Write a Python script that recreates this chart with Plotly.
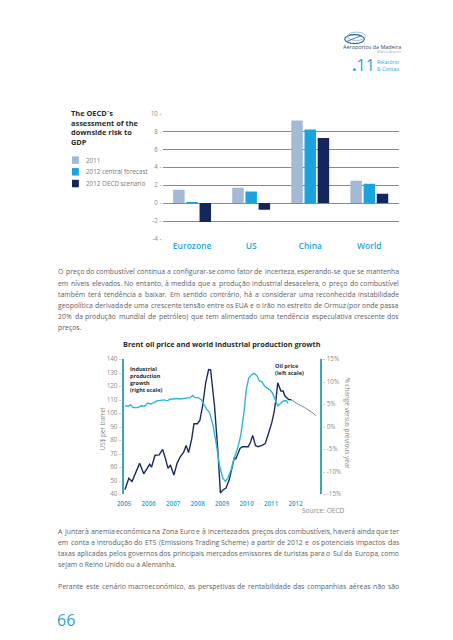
import unicodedata
import plotly.graph_objects as go

W, H = 453, 640


def px(x):
    return x / W


def py(y):
    return 1 - y / H


# ---------------- Bar chart data ----------------
regions = ["Eurozone", "US", "China", "World"]
series_names = ["2011", "2012 central forecast", "2012 OECD scenario"]
gdp_2011 = [1.5, 1.7, 9.2, 2.5]
gdp_2012_central = [0.05, 1.3, 8.2, 2.15]
gdp_2012_oecd = [-2.1, -0.75, 7.25, 1.05]
bar_tickvals = [10, 8, 6, 4, 2, 0, -2, -4]
bar_colors = ["#a3b9d5", "#1ba3dd", "#13275e"]

# ---------------- Line chart data ----------------
oil_t = [2005.03, 2005.19, 2005.32, 2005.43, 2005.63, 2005.8, 2005.92, 2006.04, 2006.12,
         2006.26, 2006.43, 2006.57, 2006.69, 2006.79, 2006.89, 2007.03, 2007.16, 2007.29,
         2007.43, 2007.53, 2007.63, 2007.76, 2007.85, 2007.99, 2008.09, 2008.2, 2008.33,
         2008.45, 2008.53, 2008.69, 2008.83, 2008.93, 2009.03, 2009.16, 2009.29, 2009.43,
         2009.5, 2009.56, 2009.63, 2009.73, 2009.83, 2009.93, 2010.07, 2010.16, 2010.25,
         2010.36, 2010.47, 2010.63, 2010.76, 2010.89, 2011.03, 2011.12, 2011.2, 2011.27,
         2011.33, 2011.4, 2011.49, 2011.56, 2011.63, 2011.72, 2011.83]
oil_usd = [43.2, 51.7, 49.3, 54.0, 62.7, 55.0, 59.0, 62.0, 60.0,
           68.7, 69.0, 73.0, 66.0, 59.0, 61.5, 54.0, 62.7, 67.6,
           71.0, 76.0, 70.7, 81.0, 92.0, 92.0, 94.4, 105.0, 122.4,
           132.2, 132.0, 105.0, 71.0, 40.7, 43.0, 44.4, 50.5, 61.5,
           67.0, 66.0, 69.0, 73.7, 75.0, 75.0, 75.0, 78.5, 83.4,
           76.0, 75.0, 76.0, 77.3, 84.6, 93.0, 100.5, 110.0, 122.4,
           119.0, 116.3, 116.3, 112.7, 111.5, 110.0, 109.8]
oil_fc_t = [2011.83, 2011.89, 2012.09, 2012.36, 2012.63, 2012.84]
oil_fc_usd = [109.8, 109.0, 106.6, 104.1, 101.0, 97.9]

ip_t = [2005.03, 2005.16, 2005.27, 2005.36, 2005.56, 2005.69, 2005.83, 2005.96, 2006.09,
        2006.23, 2006.33, 2006.49, 2006.63, 2006.76, 2006.89, 2007.03, 2007.16, 2007.29,
        2007.43, 2007.56, 2007.69, 2007.8, 2007.89, 2008.03, 2008.16, 2008.25, 2008.36,
        2008.49, 2008.63, 2008.76, 2008.89, 2009.03, 2009.13, 2009.23, 2009.36, 2009.49,
        2009.63, 2009.76, 2009.89, 2009.99, 2010.09, 2010.23, 2010.32, 2010.43, 2010.52,
        2010.63, 2010.73, 2010.87, 2010.96, 2011.05, 2011.16, 2011.27, 2011.36, 2011.45,
        2011.53, 2011.63, 2011.69]
ip_pct = [4.6, 4.5, 4.8, 4.2, 4.2, 4.6, 4.5, 5.2, 5.0,
          5.3, 5.7, 5.85, 5.9, 5.7, 6.1, 6.1, 6.2, 6.1,
          6.2, 6.2, 6.4, 6.9, 6.4, 6.4, 5.9, 5.0, 3.9,
          3.1, 0.2, -3.8, -8.6, -11.5, -12.2, -11.5, -9.7, -7.1,
          -4.9, -2.0, 3.1, 8.3, 10.8, 11.6, 11.8, 11.2, 10.1,
          9.9, 9.0, 8.4, 8.1, 7.5, 6.1, 4.6, 5.0, 5.5,
          5.7, 5.7, 5.1]
year_ticks = [2005, 2006, 2007, 2008, 2009, 2010, 2011, 2012]
usd_ticks = [140, 130, 120, 110, 100, 90, 80, 70, 60, 50, 40]
pct_ticks = [15, 10, 5, 0, -5, -10, -15]

# ---------------- Page text ----------------
para1 = [
    "O preço do combustível continua a configurar-se como fator de incerteza, esperando-se que se mantenha",
    "em níveis elevados. No entanto, à medida que a produção industrial desacelera, o preço do combustível",
    "também terá tendência a baixar. Em sentido contrário, há a considerar uma reconhecida instabilidade",
    "geopolítica derivada de uma crescente tensão entre os EUA e o Irão no estreito de Ormuz (por onde passa",
    "20% da produção mundial de petróleo) que tem alimentado uma tendência especulativa crescente dos",
    "preços.",
]
para2 = [
    "A juntar à anemia económica na Zona Euro e à incerteza dos preços dos combustíveis, haverá ainda que ter",
    "em conta a introdução do ETS (Emissions Trading Scheme) a partir de 2012 e os potenciais impactos das",
    "taxas aplicadas pelos governos dos principais mercados emissores de turistas para o Sul da Europa, como",
    "sejam o Reino Unido ou a Alemanha.",
]
para3 = [
    "Perante este cenário macroeconómico, as perspetivas de rentabilidade das companhias aéreas não são",
]

FONT = "Open Sans"
TXT = "#5f6062"
CYAN = "#23a6da"
AXIS = "#3ba7bd"
NAVY = "#1b2a66"
TICKGRAY = "#8a8a8a"

# approximate Open Sans advance widths (units per 2048 em) used to justify paragraph lines
_W = {" ": 532, "%": 1700, "(": 586, ")": 586, ",": 500, "-": 659, ".": 545, ":": 545,
      "A": 1296, "B": 1327, "C": 1292, "D": 1493, "E": 1139, "F": 1057, "G": 1491, "H": 1511,
      "I": 571, "J": 547, "K": 1257, "L": 1063, "M": 1849, "N": 1544, "O": 1595, "P": 1233,
      "Q": 1595, "R": 1266, "S": 1124, "T": 1139, "U": 1511, "V": 1243, "W": 1905, "X": 1223,
      "Y": 1176, "Z": 1151, "a": 1139, "b": 1255, "c": 975, "d": 1255, "e": 1149, "f": 694,
      "g": 1122, "h": 1257, "i": 518, "j": 518, "k": 1075, "l": 518, "m": 1905, "n": 1257,
      "o": 1237, "p": 1255, "q": 1255, "r": 836, "s": 977, "t": 723, "u": 1257, "v": 1026,
      "w": 1593, "x": 1073, "y": 1028, "z": 958}


def text_width(s, size):
    tot = 0
    for ch in s:
        base = unicodedata.normalize("NFD", ch)[0]
        tot += _W.get(base, 1171)
    return tot / 2048 * size


fig = go.Figure()

# Bars
for name, vals, col in zip(series_names, [gdp_2011, gdp_2012_central, gdp_2012_oecd], bar_colors):
    fig.add_trace(go.Bar(x=regions, y=vals, name=name, marker=dict(color=col, line=dict(width=0)),
                         xaxis="x", yaxis="y", showlegend=False))

# Lines
fig.add_trace(go.Scatter(x=ip_t, y=ip_pct, mode="lines", line=dict(color="#2ab7dc", width=1.4),
                         xaxis="x2", yaxis="y3", showlegend=False, name="Industrial production growth"))
fig.add_trace(go.Scatter(x=oil_t, y=oil_usd, mode="lines", line=dict(color=NAVY, width=1.4),
                         xaxis="x2", yaxis="y2", showlegend=False, name="Oil price"))
fig.add_trace(go.Scatter(x=oil_fc_t, y=oil_fc_usd, mode="lines", line=dict(color="#5a6a8a", width=0.8),
                         xaxis="x2", yaxis="y2", showlegend=False, name="Oil price (forecast)"))

fig.update_layout(
    width=W, height=H,
    margin=dict(l=0, r=0, t=0, b=0),
    paper_bgcolor="white", plot_bgcolor="rgba(0,0,0,0)",
    font=dict(family=FONT, color=TXT),
    barmode="group", bargap=0.33, bargroupgap=0.13,
    xaxis=dict(domain=[px(158), px(398)], anchor="y", showgrid=False, zeroline=False, showline=False,
               ticks="", tickfont=dict(size=8.5, color=CYAN, weight=600), fixedrange=True),
    yaxis=dict(domain=[py(237.8), py(109.5)], anchor="x", range=[-4.05, 10.05], tickvals=bar_tickvals,
               ticktext=[f"{v} -" for v in bar_tickvals],
               showgrid=True, gridcolor="#3aa1d6", gridwidth=1, zeroline=True, zerolinecolor="#3aa1d6",
               zerolinewidth=1, showline=False, ticks="", tickfont=dict(size=6.3, color=TICKGRAY)),
    xaxis2=dict(domain=[px(119), px(318)], anchor="y2", range=[2005, 2013], tickvals=year_ticks,
                ticktext=[str(v) for v in year_ticks], showgrid=False, zeroline=False, showline=False,
                ticks="", ticklabelstandoff=5, tickfont=dict(size=6.2, color=CYAN, weight=600)),
    yaxis2=dict(domain=[py(496), py(359)], anchor="x2", range=[40, 140], tickvals=usd_ticks,
                ticktext=[f"{v} -" for v in usd_ticks], showgrid=False, zeroline=False,
                showline=True, linecolor=AXIS, linewidth=1.5, ticks="",
                tickfont=dict(size=6.3, color=TICKGRAY)),
    yaxis3=dict(overlaying="y2", anchor="x2", side="right", range=[-15, 15], tickvals=pct_ticks,
                ticktext=[f"- {v}%" for v in pct_ticks], showgrid=False, zeroline=False,
                showline=True, linecolor=AXIS, linewidth=1.5, ticks="",
                tickfont=dict(size=6.3, color=TICKGRAY)),
)

ann = []


def add_text(x, y, text, size, color=TXT, xanchor="left", yanchor="middle", weight=None, angle=0, align="left"):
    f = dict(size=size, color=color, family=FONT)
    if weight:
        f["weight"] = weight
    ann.append(dict(x=px(x), y=py(y), xref="paper", yref="paper", text=text, showarrow=False,
                    xanchor=xanchor, yanchor=yanchor, font=f, textangle=angle, align=align,
                    borderpad=0, borderwidth=0))


PARA_SIZE = 6.9
LEFT, RIGHT = 52, 398


def add_paragraph(lines, y0, step, justify_last=False):
    for i, line in enumerate(lines):
        y = y0 + i * step
        last = (i == len(lines) - 1) and not justify_last
        words = line.split(" ")
        if last or len(words) < 2:
            add_text(LEFT, y, line, PARA_SIZE)
            continue
        widths = [text_width(w, PARA_SIZE) for w in words]
        gap = (RIGHT - LEFT - sum(widths)) / (len(words) - 1)
        x = LEFT
        for j, (w, wd) in enumerate(zip(words, widths)):
            if j == len(words) - 1:
                add_text(RIGHT, y, w, PARA_SIZE, xanchor="right")
            else:
                add_text(x, y, w, PARA_SIZE)
            x += wd + gap


# Bar chart title & legend
add_text(65, 124.5, "The OECD´s<br>assessment of the<br>downside risk to<br>GDP", 7.4, color="#2b2b2b",
         weight=700)
shapes = []
for i, (name, col) in enumerate(zip(series_names, bar_colors)):
    yc = 157.3 + i * 11.9
    shapes.append(dict(type="rect", xref="paper", yref="paper", x0=px(66), x1=px(73), y0=py(yc + 3.8),
                       y1=py(yc - 3.8), fillcolor=col, line=dict(width=0)))
    add_text(80, yc, name, 6.3, color="#7a7a7a")

# Paragraphs
add_paragraph(para1, 270.7, 11.32)
add_text(218.5, 344.3, "Brent oil price and world industrial production growth", 7.3, color="#2b2b2b",
         xanchor="center", weight=700)
add_paragraph(para2, 533.7, 11.4)
add_paragraph(para3, 590.3, 11.4, justify_last=True)

# Line chart annotations
add_text(124.5, 379.5, "Industrial<br>production<br>growth<br>(right scale)", 5.5, color="#2b2b2b", weight=700)
add_text(272, 369.5, "Oil price<br>(left scale)", 5.6, color="#2b2b2b", weight=700)
add_text(97, 430, "US$ per barrel", 6.4, color=TICKGRAY, xanchor="center", angle=-90)
add_text(346, 424, "% change versus previous year", 6.4, color=TICKGRAY, xanchor="center", angle=90)
add_text(343, 512.5, "Source: OECD", 6.6, color=TICKGRAY, xanchor="right")

# Page number
add_text(51, 623.5, "66", 16, color="#2aa6cf")

# Header logo
shapes.append(dict(type="circle", xref="paper", yref="paper", x0=px(343), x1=px(363), y0=py(39), y1=py(30),
                   line=dict(color="#1f5f9c", width=1.1), fillcolor="rgba(0,0,0,0)"))
shapes.append(dict(type="circle", xref="paper", yref="paper", x0=px(346), x1=px(364), y0=py(36), y1=py(27.5),
                   line=dict(color="#8fb4cf", width=0.9), fillcolor="rgba(0,0,0,0)"))
shapes.append(dict(type="line", xref="paper", yref="paper", x0=px(345), x1=px(360), y0=py(37), y1=py(31),
                   line=dict(color="#1f5f9c", width=0.8)))
add_text(400, 42.8, "Aeroportos da Madeira", 5.4, color="#2a4f7a", xanchor="right")
add_text(400, 47.8, "Madeira Airports", 3.0, color="#8aa8c0", xanchor="right")
add_text(350, 60.5, "<b>.</b>11", 16, color="#22a9e0")
add_text(376, 61, "Relatório<br>& Contas", 5.2, color="#22a9e0")

fig.update_layout(annotations=ann, shapes=shapes)

fig.write_html("out.html", config={"displayModeBar": False},
               post_script="document.body.style.margin='0px';")
